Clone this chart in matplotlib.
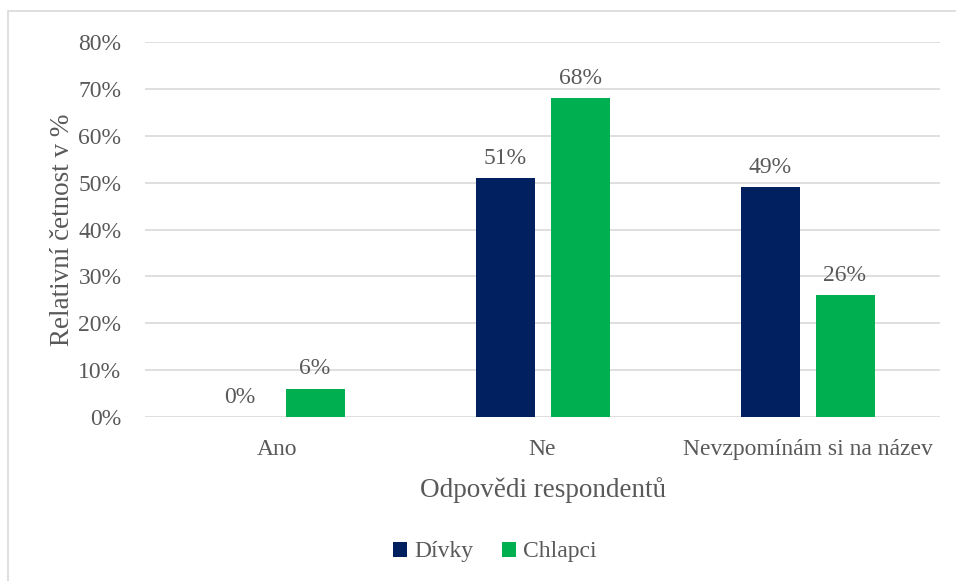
import matplotlib.pyplot as plt
import numpy as np
from matplotlib.patches import Rectangle

plt.rcParams['font.family'] = ['Liberation Serif', 'DejaVu Serif']

categories = ['Ano', 'Ne', 'Nevzpomínám si na název']
divky = [0, 51, 49]
chlapci = [6, 68, 26]

navy = '#002060'
green = '#00B050'
txt = '#595959'
grid = '#d9d9d9'

fig = plt.figure(figsize=(9.56, 5.81), dpi=100)
# outer chart frame
fig.patches.append(Rectangle((8 / 956, -0.1), 1.2, 1 - 11 / 581 + 0.1,
                             transform=fig.transFigure, fill=False,
                             edgecolor=grid, linewidth=1.2))

ax = fig.add_axes([145 / 956, 1 - 417 / 581, 795 / 956, 375 / 581])

x = np.arange(len(categories))
w = 59 / 265
gap = 16 / 265
b1 = ax.bar(x - (w + gap) / 2, divky, w, color=navy, label='Dívky', zorder=3)
b2 = ax.bar(x + (w + gap) / 2, chlapci, w, color=green, label='Chlapci', zorder=3)

for bars in (b1, b2):
    for r in bars:
        h = r.get_height()
        ax.text(r.get_x() + r.get_width() / 2, h + 2.0, f'{h:.0f}%',
                ha='center', va='bottom', fontsize=17, color=txt)

ax.set_xlim(-0.5, 2.5)
ax.set_ylim(0, 80)
ax.set_yticks(range(0, 81, 10))
ax.set_yticklabels([f'{v}%' for v in range(0, 81, 10)])
ax.set_xticks(x)
ax.set_xticklabels(categories)
ax.tick_params(axis='both', length=0, labelsize=17, labelcolor=txt)
ax.tick_params(axis='y', pad=17)
ax.tick_params(axis='x', pad=16)
ax.grid(axis='y', color=grid, linewidth=1.2, zorder=0)
for s in ax.spines.values():
    s.set_visible(False)

ax.set_ylabel('Relativní četnost v %', fontsize=19.5, color=txt, labelpad=2)
ax.set_xlabel('Odpovědi respondentů', fontsize=19.5, color=txt, labelpad=12)

leg = fig.legend(handles=[b1, b2], labels=['Dívky', 'Chlapci'], loc='center',
                 bbox_to_anchor=(495 / 956, 1 - 552 / 581), ncol=2, frameon=False,
                 fontsize=17, labelcolor=txt,
                 handlelength=0.6, handleheight=0.6,
                 handletextpad=0.3, columnspacing=1.2)
for t in leg.get_texts():
    t.set_fontfamily('Liberation Serif')

fig.savefig('out.png', dpi=100)
